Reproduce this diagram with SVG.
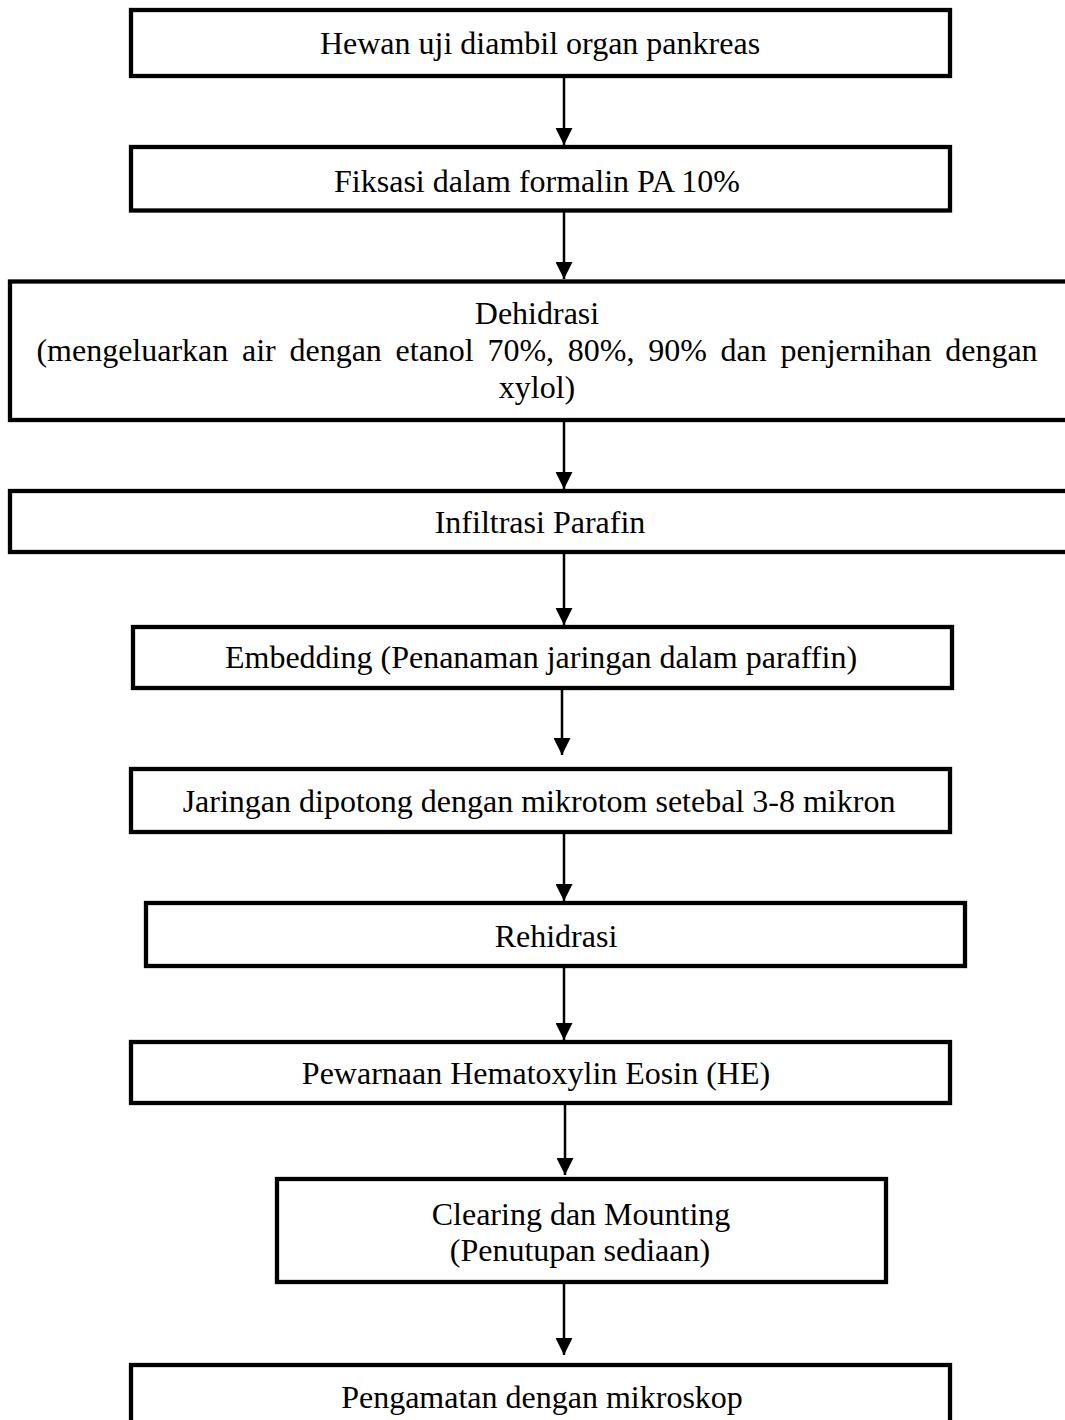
<svg xmlns="http://www.w3.org/2000/svg" width="1065" height="1420" viewBox="0 0 1065 1420">
<defs>
<style>
.box{fill:#fff;stroke:#000;stroke-width:4.3}
.t{font-family:"Liberation Serif","Times New Roman",serif;font-size:32px;fill:#000;text-anchor:middle}
.c{stroke:#000;stroke-width:2.5;fill:none}
</style>
<marker id="ah" markerWidth="17" markerHeight="17" refX="17" refY="8.5" orient="auto" markerUnits="userSpaceOnUse" viewBox="0 0 17 17">
<path d="M0,0 L17,8.5 L0,17 Z" fill="#000"/>
</marker>
</defs>
<rect width="1065" height="1420" fill="#fff"/>
<g id="connectors">
<line class="c" x1="564" y1="76" x2="564" y2="145" marker-end="url(#ah)"/>
<line class="c" x1="564" y1="212" x2="564" y2="279" marker-end="url(#ah)"/>
<line class="c" x1="564" y1="420" x2="564" y2="489" marker-end="url(#ah)"/>
<line class="c" x1="564" y1="552" x2="564" y2="625" marker-end="url(#ah)"/>
<line class="c" x1="562" y1="688" x2="562" y2="755" marker-end="url(#ah)"/>
<line class="c" x1="564" y1="832" x2="564" y2="901" marker-end="url(#ah)"/>
<line class="c" x1="564" y1="966" x2="564" y2="1040" marker-end="url(#ah)"/>
<line class="c" x1="565" y1="1103" x2="565" y2="1175" marker-end="url(#ah)"/>
<line class="c" x1="564" y1="1282" x2="564" y2="1355" marker-end="url(#ah)"/>
</g>
<g id="n1"><rect class="box" x="131" y="10" width="819" height="66"/><text class="t" x="540" y="54">Hewan uji diambil organ pankreas</text></g>
<g id="n2"><rect class="box" x="131" y="147" width="819" height="63.5"/><text class="t" x="537" y="192">Fiksasi dalam formalin PA 10%</text></g>
<g id="n3"><rect class="box" x="10" y="281.5" width="1070" height="138.5"/>
<text class="t" x="537" y="324">Dehidrasi</text>
<text class="t" x="537" y="361" word-spacing="5.7">(mengeluarkan air dengan etanol 70%, 80%, 90% dan penjernihan dengan</text>
<text class="t" x="537" y="398">xylol)</text></g>
<g id="n4"><rect class="box" x="10" y="491" width="1070" height="61"/><text class="t" x="540" y="533">Infiltrasi Parafin</text></g>
<g id="n5"><rect class="box" x="133" y="627" width="819" height="61"/><text class="t" x="541" y="668">Embedding (Penanaman jaringan dalam paraffin)</text></g>
<g id="n6"><rect class="box" x="131" y="769" width="819" height="63"/><text class="t" x="539" y="812">Jaringan dipotong dengan mikrotom setebal 3-8 mikron</text></g>
<g id="n7"><rect class="box" x="146" y="903" width="819" height="63"/><text class="t" x="556" y="947">Rehidrasi</text></g>
<g id="n8"><rect class="box" x="131" y="1042" width="819" height="61"/><text class="t" x="536" y="1084">Pewarnaan Hematoxylin Eosin (HE)</text></g>
<g id="n9"><rect class="box" x="277" y="1179" width="609" height="103"/>
<text class="t" x="581" y="1225">Clearing dan Mounting</text>
<text class="t" x="580" y="1261">(Penutupan sediaan)</text></g>
<g id="n10"><rect class="box" x="131" y="1365" width="819" height="70"/><text class="t" x="542" y="1408">Pengamatan dengan mikroskop</text></g>
</svg>
